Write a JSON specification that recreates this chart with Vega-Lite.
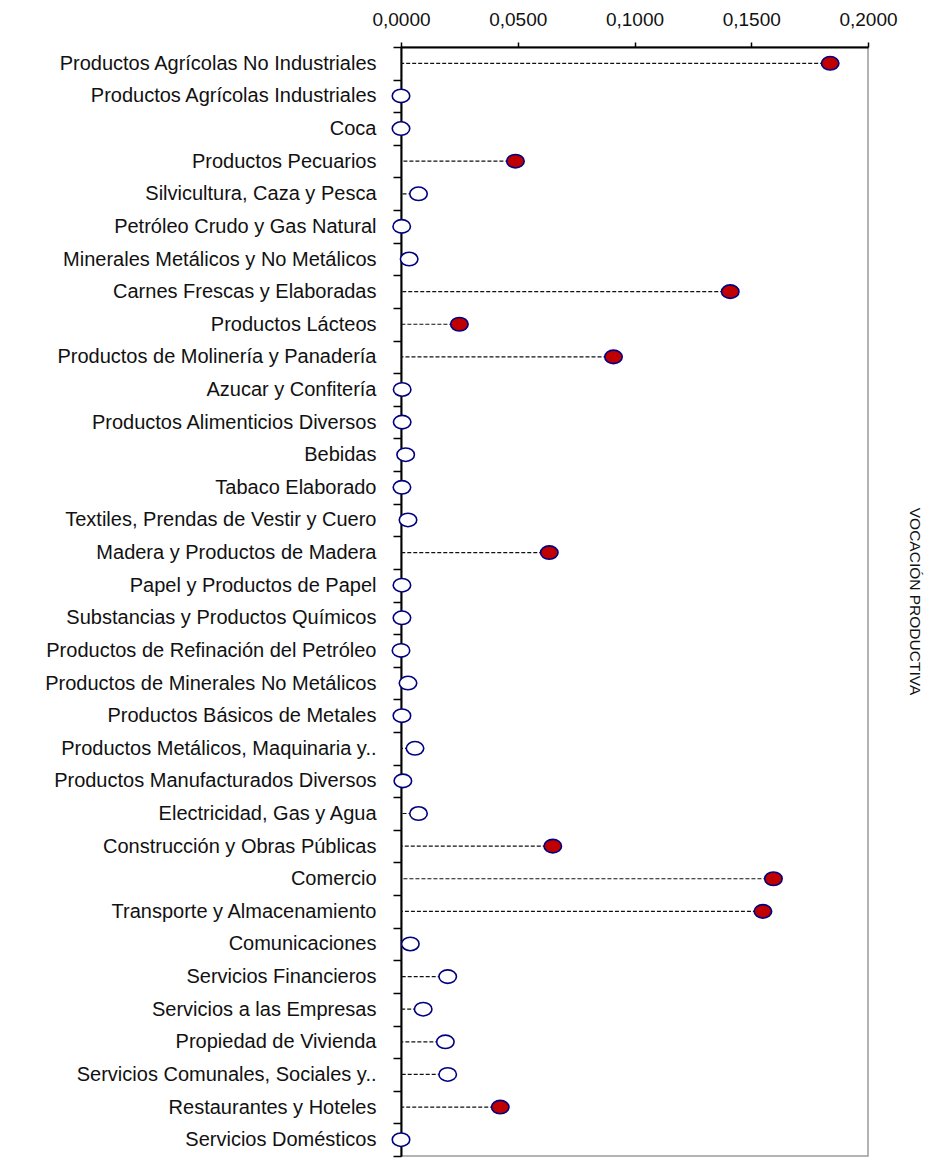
{
  "$schema": "https://vega.github.io/schema/vega-lite/v6.json",
  "width": 467,
  "height": 1109,
  "autosize": "none",
  "padding": {"left": 401, "top": 47, "right": 64, "bottom": 5},
  "background": "white",
  "config": {
    "view": {"stroke": "#9a9a9a", "strokeWidth": 1.5},
    "font": "Liberation Sans"
  },
  "title": {
    "text": "VOCACIÓN PRODUCTIVA",
    "orient": "right",
    "angle": 90,
    "anchor": "middle",
    "fontSize": 15.5,
    "fontWeight": "normal",
    "font": "Liberation Sans",
    "color": "#111",
    "offset": 9
  },
  "data": {
    "values": [
      {"cat": "Productos Agrícolas No Industriales", "val": 0.1838, "voc": 1},
      {"cat": "Productos Agrícolas Industriales", "val": 0.0, "voc": 0},
      {"cat": "Coca", "val": 0.0, "voc": 0},
      {"cat": "Productos Pecuarios", "val": 0.049, "voc": 1},
      {"cat": "Silvicultura, Caza y Pesca", "val": 0.0075, "voc": 0},
      {"cat": "Petróleo Crudo y Gas Natural", "val": 0.0003, "voc": 0},
      {"cat": "Minerales Metálicos y No Metálicos", "val": 0.0035, "voc": 0},
      {"cat": "Carnes Frescas y Elaboradas", "val": 0.141, "voc": 1},
      {"cat": "Productos Lácteos", "val": 0.025, "voc": 1},
      {"cat": "Productos de Molinería y Panadería", "val": 0.091, "voc": 1},
      {"cat": "Azucar y Confitería", "val": 0.0005, "voc": 0},
      {"cat": "Productos Alimenticios Diversos", "val": 0.0005, "voc": 0},
      {"cat": "Bebidas", "val": 0.002, "voc": 0},
      {"cat": "Tabaco Elaborado", "val": 0.0004, "voc": 0},
      {"cat": "Textiles, Prendas de Vestir y Cuero", "val": 0.003, "voc": 0},
      {"cat": "Madera y Productos de Madera", "val": 0.0635, "voc": 1},
      {"cat": "Papel y Productos de Papel", "val": 0.0004, "voc": 0},
      {"cat": "Substancias y Productos Químicos", "val": 0.0004, "voc": 0},
      {"cat": "Productos de Refinación del Petróleo", "val": 0.0, "voc": 0},
      {"cat": "Productos de Minerales No Metálicos", "val": 0.003, "voc": 0},
      {"cat": "Productos Básicos de Metales", "val": 0.0004, "voc": 0},
      {"cat": "Productos Metálicos, Maquinaria y..", "val": 0.006, "voc": 0},
      {"cat": "Productos Manufacturados Diversos", "val": 0.0008, "voc": 0},
      {"cat": "Electricidad, Gas y Agua", "val": 0.0075, "voc": 0},
      {"cat": "Construcción y Obras Públicas", "val": 0.065, "voc": 1},
      {"cat": "Comercio", "val": 0.1595, "voc": 1},
      {"cat": "Transporte y Almacenamiento", "val": 0.155, "voc": 1},
      {"cat": "Comunicaciones", "val": 0.004, "voc": 0},
      {"cat": "Servicios Financieros", "val": 0.02, "voc": 0},
      {"cat": "Servicios a las Empresas", "val": 0.0095, "voc": 0},
      {"cat": "Propiedad de Vivienda", "val": 0.019, "voc": 0},
      {"cat": "Servicios Comunales, Sociales y..", "val": 0.02, "voc": 0},
      {"cat": "Restaurantes y Hoteles", "val": 0.0425, "voc": 1},
      {"cat": "Servicios Domésticos", "val": 0.0, "voc": 0}
    ]
  },
  "encoding": {
    "y": {
      "field": "cat",
      "type": "nominal",
      "sort": null,
      "scale": {"paddingInner": 0, "paddingOuter": 0},
      "axis": {
        "title": null,
        "orient": "left",
        "grid": false,
        "domainColor": "black",
        "domainWidth": 2,
        "tickBand": "extent",
        "tickSize": 8,
        "tickColor": "black",
        "tickWidth": 1.5,
        "labelFontSize": 20,
        "labelPadding": 17,
        "labelLimit": 420,
        "labelColor": "#111"
      }
    }
  },
  "layer": [
    {
      "mark": {"type": "rule", "color": "#111", "strokeWidth": 1.2, "strokeDash": [4, 2]},
      "encoding": {
        "x": {
          "field": "val",
          "type": "quantitative",
          "scale": {"domain": [0, 0.2], "nice": false, "zero": true},
          "axis": {
            "orient": "top",
            "title": null,
            "values": [0, 0.05, 0.1, 0.15, 0.2],
            "labelExpr": "replace(format(datum.value, '.4f'), '.', ',')",
            "grid": false,
            "domainColor": "black",
            "domainWidth": 2,
            "tickColor": "black",
            "tickSize": 5,
            "tickWidth": 1.5,
            "labelFontSize": 19,
            "labelPadding": 13,
            "labelFlush": false,
            "labelColor": "#111"
          }
        },
        "x2": {"datum": 0}
      }
    },
    {
      "mark": {
        "type": "point",
        "shape": "M-1,0A1,0.77 0 1,1 1,0A1,0.77 0 1,1 -1,0Z",
        "size": 306,
        "filled": true,
        "stroke": "#000080",
        "strokeWidth": 1.6,
        "opacity": 1
      },
      "encoding": {
        "x": {"field": "val", "type": "quantitative"},
        "fill": {
          "field": "voc",
          "type": "nominal",
          "scale": {"domain": [1, 0], "range": ["#C00000", "#ffffff"]},
          "legend": null
        }
      }
    }
  ]
}
